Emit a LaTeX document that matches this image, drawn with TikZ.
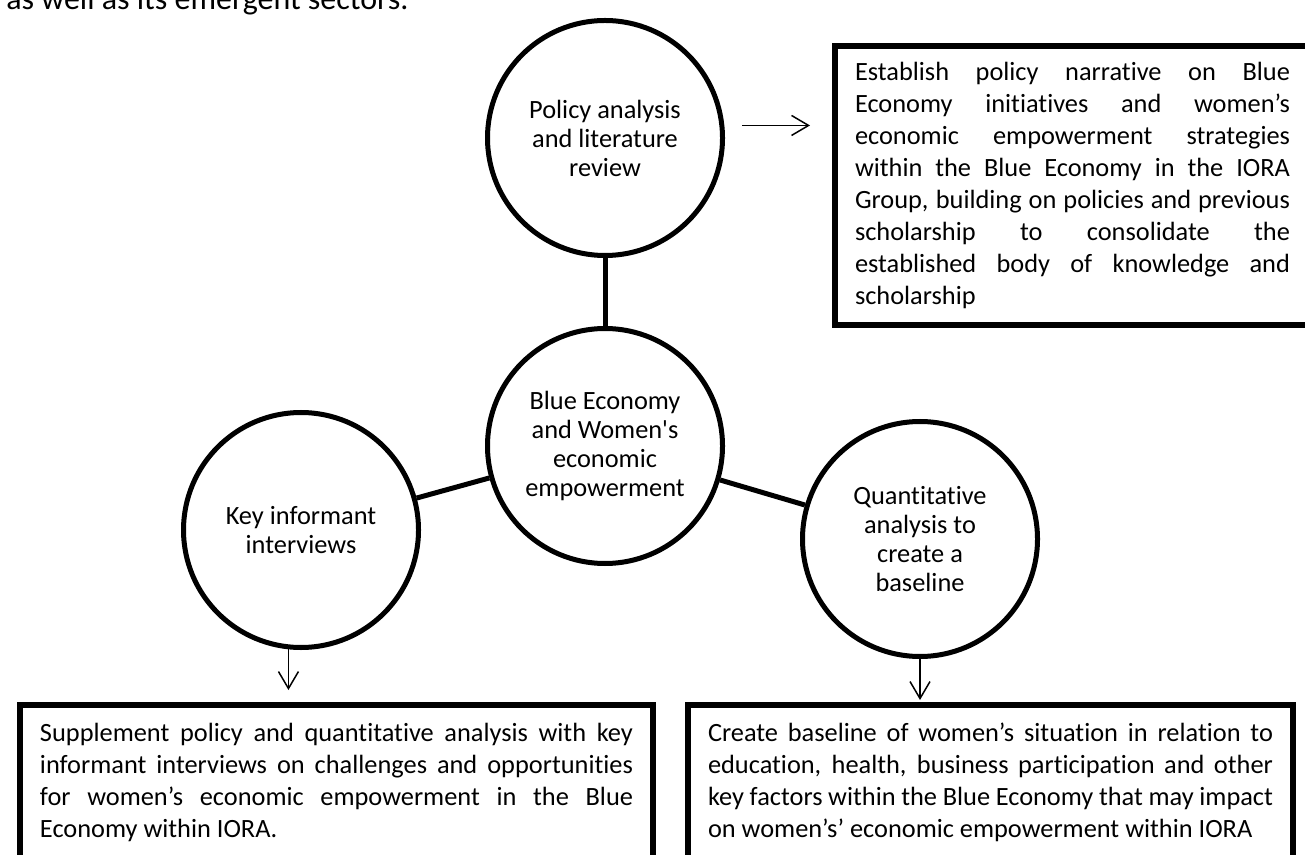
\documentclass[tikz,border=0pt]{standalone}
\usepackage{fontspec}
\setmainfont{Carlito}[Ligatures={TeX,NoCommon}]
\usetikzlibrary{arrows.meta}
\tolerance=9999
\hyphenpenalty=10000
\begin{document}
\begin{tikzpicture}[scale=1,
    circ/.style={draw,circle,line width=0.1cm,minimum size=4.7cm,align=center,font=\fontsize{15}{16.5}\selectfont},
    textbox/.style={draw,anchor=north west,line width=0.12cm,inner xsep=0.4cm,align=justify,font=\fontsize{15}{18.2}\selectfont},
    pointer/.style={line width=0.03cm,-{Straight Barb[length=0.34cm,width=0.4cm]}}]
      \useasboundingbox(0,0)rectangle(26.1,-17.1);
      \clip(0,0)rectangle(26.1,-17.1);
      \node[anchor=base west,inner sep=0,font=\fontsize{18.2}{22}\selectfont](Ttop) at (0.12,-0.2){as well as its emergent sectors.};
      \node[circ](Cpol) at (12.1,-2.76){Policy analysis\\and literature\\review};
      \node[circ](Cblue) at (12.1,-8.92){Blue Economy\\and Women\textquotesingle s\\economic\\empowerment};
      \node[circ](Ckey) at (6.02,-10.6){Key informant\\interviews};
      \node[circ](Cquant) at (18.4,-10.78){Quantitative\\analysis to\\create a\\baseline};
      \foreach \a in {Cpol,Ckey,Cquant}{
        \draw[line width=0.1cm](\a)--(Cblue);
      }
      \node[textbox,text width=8.7cm,minimum height=5.58cm](Bpol) at (16.64,-0.86){Establish policy narrative on Blue\linebreak
        Economy initiatives and women’s\linebreak
        economic empowerment strategies\linebreak
        within the Blue Economy in the IORA\linebreak
        Group, building on policies and previous\linebreak
        scholarship to consolidate the\linebreak
        established body of knowledge and\linebreak
        scholarship};
      \node[textbox,text width=11.86cm,minimum height=3.1cm](Bkey) at (0.34,-14.04){Supplement policy and quantitative analysis with key\linebreak
        informant interviews on challenges and opportunities\linebreak
        for women’s economic empowerment in the Blue\linebreak
        Economy within IORA.};
      \node[textbox,text width=11.3cm,minimum height=3.1cm](Bquant) at (13.7,-14.04){Create baseline of women’s situation in relation to\linebreak
        education, health, business participation and other\linebreak
        key factors within the Blue Economy that may impact\linebreak
        on women’s’ economic empowerment within IORA};
      \draw[pointer,shorten <=0.36cm,shorten >=0.44cm](Cpol.6)--(Cpol.6 -| Bpol.west);
      \draw[pointer,shorten >=0.24cm](Ckey.264)--(Ckey.264 |- Bkey.north);
      \draw[pointer,shorten >=0.04cm](Cquant.south)--(Cquant.south |- Bquant.north);
    \end{tikzpicture}
\end{document}
